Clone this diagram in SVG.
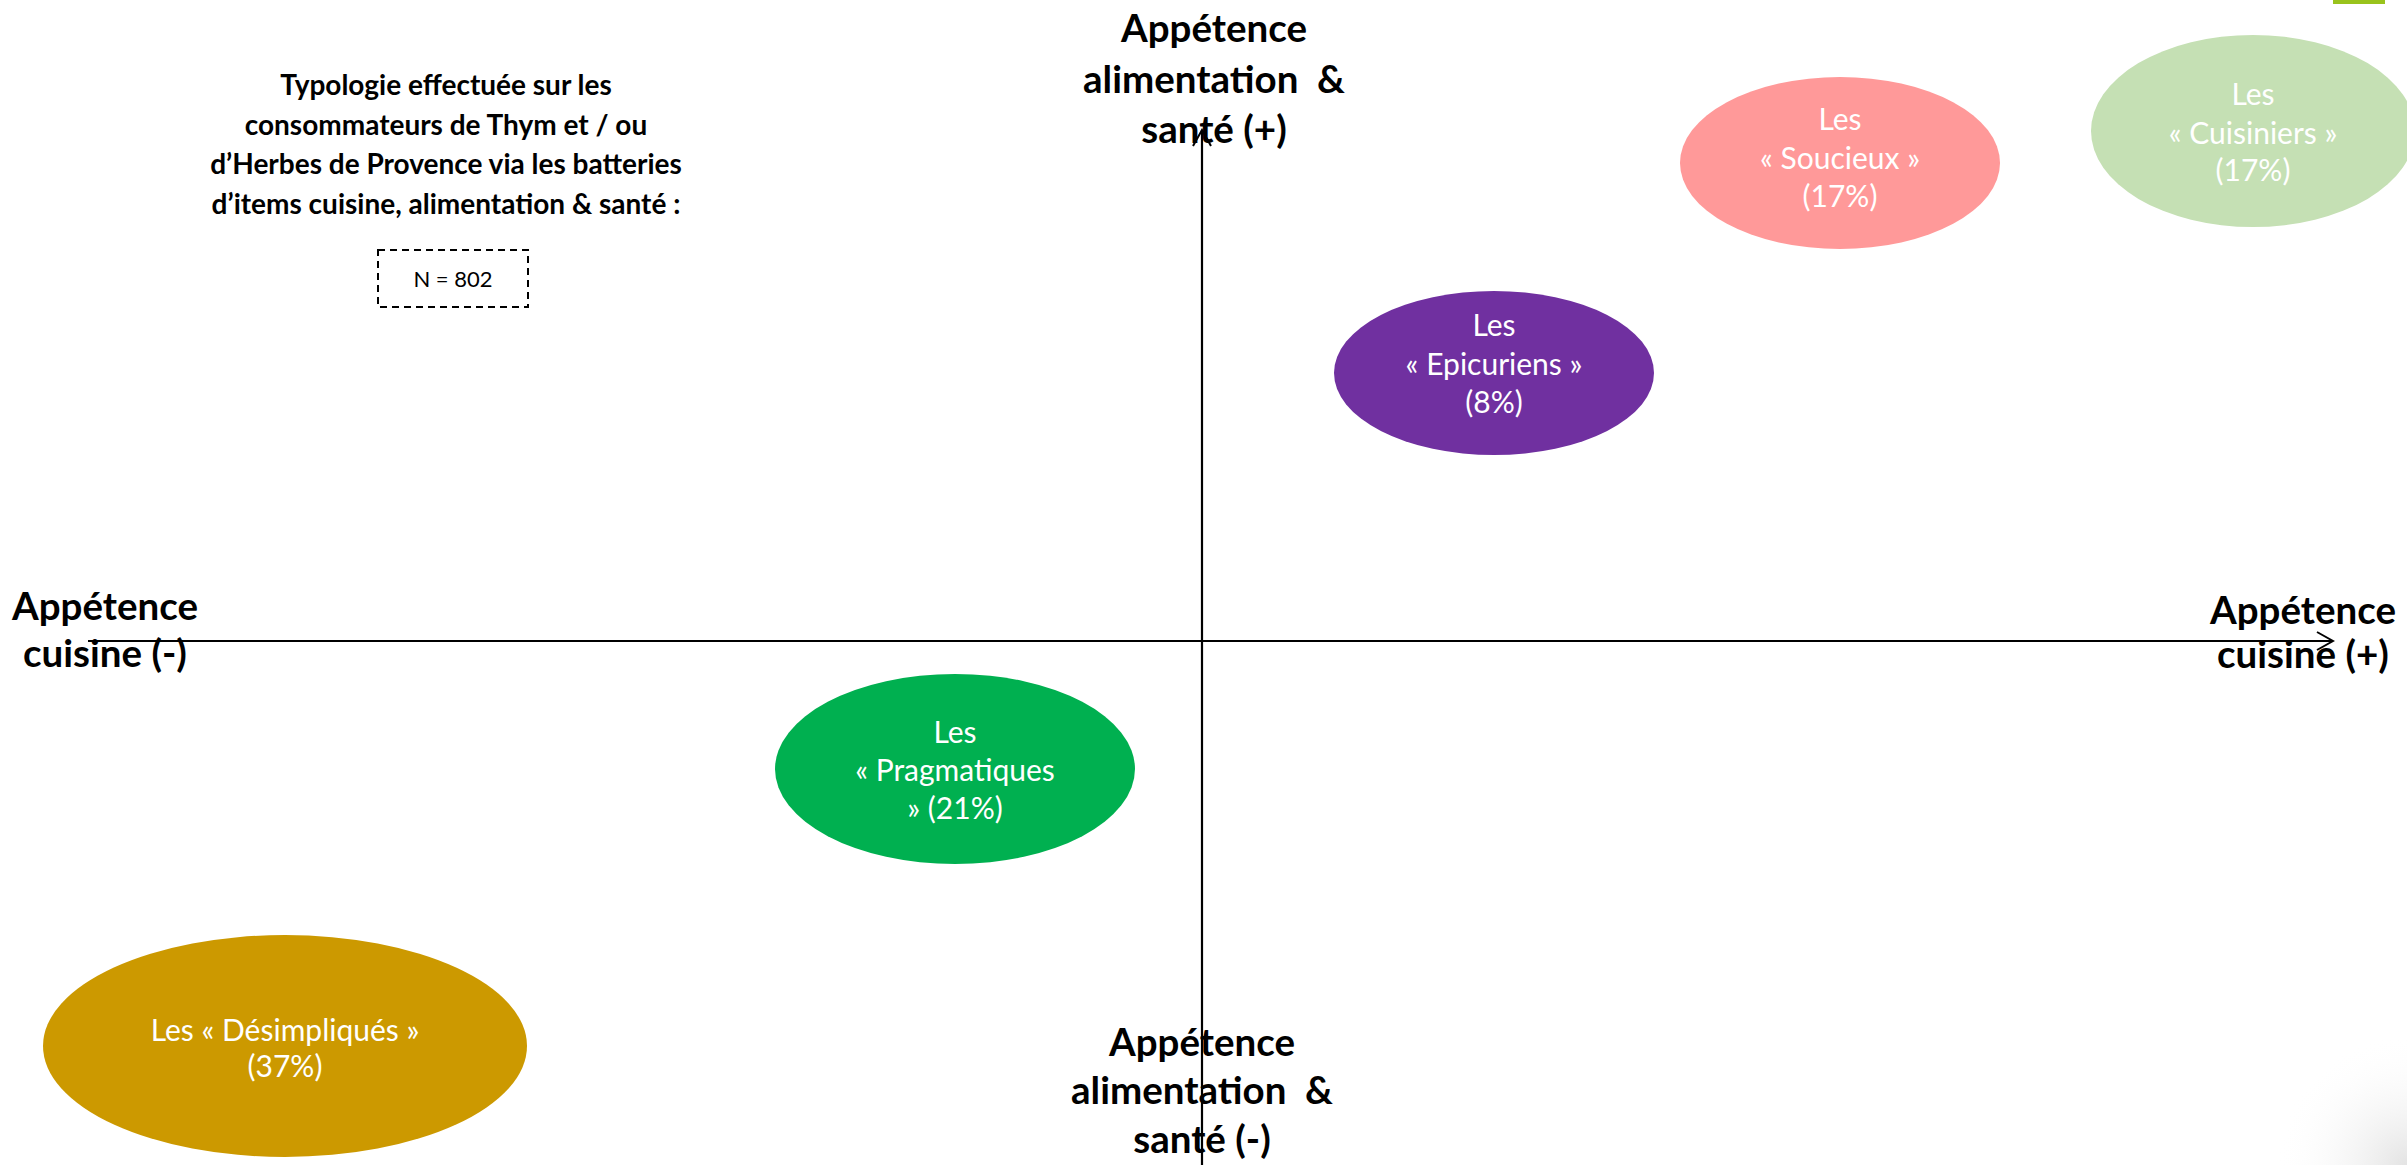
<svg xmlns="http://www.w3.org/2000/svg" width="2407" height="1165" viewBox="0 0 2407 1165">
  <defs>
    <style>
      .bold { font-family: Lato, "Liberation Sans", Arial, sans-serif; font-weight: 700; fill: #000; text-anchor: middle; }
      .axis-label { font-size: 38.5px; }
      .title { font-size: 28px; }
      .light { font-family: Lato, "Liberation Sans", Arial, sans-serif; font-weight: 400; fill: #fff; text-anchor: middle; font-size: 30px; }
      .n-label { font-family: Lato, "Liberation Sans", Arial, sans-serif; font-weight: 400; fill: #000; text-anchor: middle; font-size: 22px; }
      .axis { stroke: #000; stroke-width: 2.2; fill: none; }
    </style>
    <marker id="openArrow" viewBox="0 0 20 20" refX="18" refY="10" markerWidth="20" markerHeight="20" markerUnits="userSpaceOnUse" orient="auto">
      <path d="M2,1 L18,10 L2,19" fill="none" stroke="#000" stroke-width="2"/>
    </marker>
    <radialGradient id="cornerShade" cx="2407" cy="1165" r="130" gradientUnits="userSpaceOnUse">
      <stop offset="0" stop-color="#dcdcdc" stop-opacity="0.8"/>
      <stop offset="1" stop-color="#ffffff" stop-opacity="0"/>
    </radialGradient>
  </defs>

  <rect x="0" y="0" width="2407" height="1165" fill="#ffffff"/>
  <rect x="2270" y="1030" width="137" height="135" fill="url(#cornerShade)"/>
  <rect x="2333" y="0" width="52" height="4" fill="#99C31C"/>

  <!-- Title -->
  <g id="title">
    <text class="bold title" x="446" y="95">Typologie effectuée sur les</text>
    <text class="bold title" x="446" y="135">consommateurs de Thym et / ou</text>
    <text class="bold title" x="446" y="174">d’Herbes de Provence via les batteries</text>
    <text class="bold title" x="446" y="214">d’items cuisine, alimentation &amp; santé :</text>
  </g>
  <g id="sample-size">
    <rect x="378" y="250" width="150" height="57" fill="none" stroke="#000" stroke-width="2" stroke-dasharray="7 5"/>
    <text class="n-label" x="453" y="287">N = 802</text>
  </g>

  <!-- Axis labels -->
  <g id="label-top">
    <text class="bold axis-label" x="1214" y="42">Appétence</text>
    <text class="bold axis-label" x="1214" y="93" xml:space="preserve">alimentation  &amp;</text>
    <text class="bold axis-label" x="1214" y="143">santé (+)</text>
  </g>
  <g id="label-bottom">
    <text class="bold axis-label" x="1202" y="1056">Appétence</text>
    <text class="bold axis-label" x="1202" y="1104" xml:space="preserve">alimentation  &amp;</text>
    <text class="bold axis-label" x="1202" y="1153">santé (-)</text>
  </g>
  <g id="label-left">
    <text class="bold axis-label" x="105" y="620">Appétence</text>
    <text class="bold axis-label" x="105" y="667">cuisine (-)</text>
  </g>
  <g id="label-right">
    <text class="bold axis-label" x="2303" y="624">Appétence</text>
    <text class="bold axis-label" x="2303" y="668">cuisine (+)</text>
  </g>

  <!-- Segments -->
  <g id="node-soucieux">
    <ellipse cx="1840" cy="163" rx="160" ry="86" fill="#FF9999"/>
    <text class="light" x="1840" y="130">Les</text>
    <text class="light" x="1840" y="169">« Soucieux »</text>
    <text class="light" x="1840" y="207">(17%)</text>
  </g>
  <g id="node-cuisiniers">
    <ellipse cx="2253" cy="131" rx="162" ry="96" fill="#C5E0B4"/>
    <text class="light" x="2253" y="105">Les</text>
    <text class="light" x="2253" y="144">« Cuisiniers »</text>
    <text class="light" x="2253" y="181">(17%)</text>
  </g>
  <g id="node-epicuriens">
    <ellipse cx="1494" cy="373" rx="160" ry="82" fill="#7030A0"/>
    <text class="light" x="1494" y="336">Les</text>
    <text class="light" x="1494" y="375">« Epicuriens »</text>
    <text class="light" x="1494" y="413">(8%)</text>
  </g>
  <g id="node-pragmatiques">
    <ellipse cx="955" cy="769" rx="180" ry="95" fill="#00B050"/>
    <text class="light" x="955" y="743">Les</text>
    <text class="light" x="955" y="781">« Pragmatiques</text>
    <text class="light" x="955" y="819">» (21%)</text>
  </g>
  <g id="node-desimpliques">
    <ellipse cx="285" cy="1046" rx="242" ry="111" fill="#CC9900"/>
    <text class="light" x="285" y="1041">Les « Désimpliqués »</text>
    <text class="light" x="285" y="1077">(37%)</text>
  </g>

  <!-- Connectors (axes) -->
  <g id="connectors">
    <line class="axis" x1="88" y1="641" x2="2333" y2="641" marker-end="url(#openArrow)"/>
    <line class="axis" x1="1202" y1="1165" x2="1202" y2="130" marker-end="url(#openArrow)"/>
  </g>
</svg>
